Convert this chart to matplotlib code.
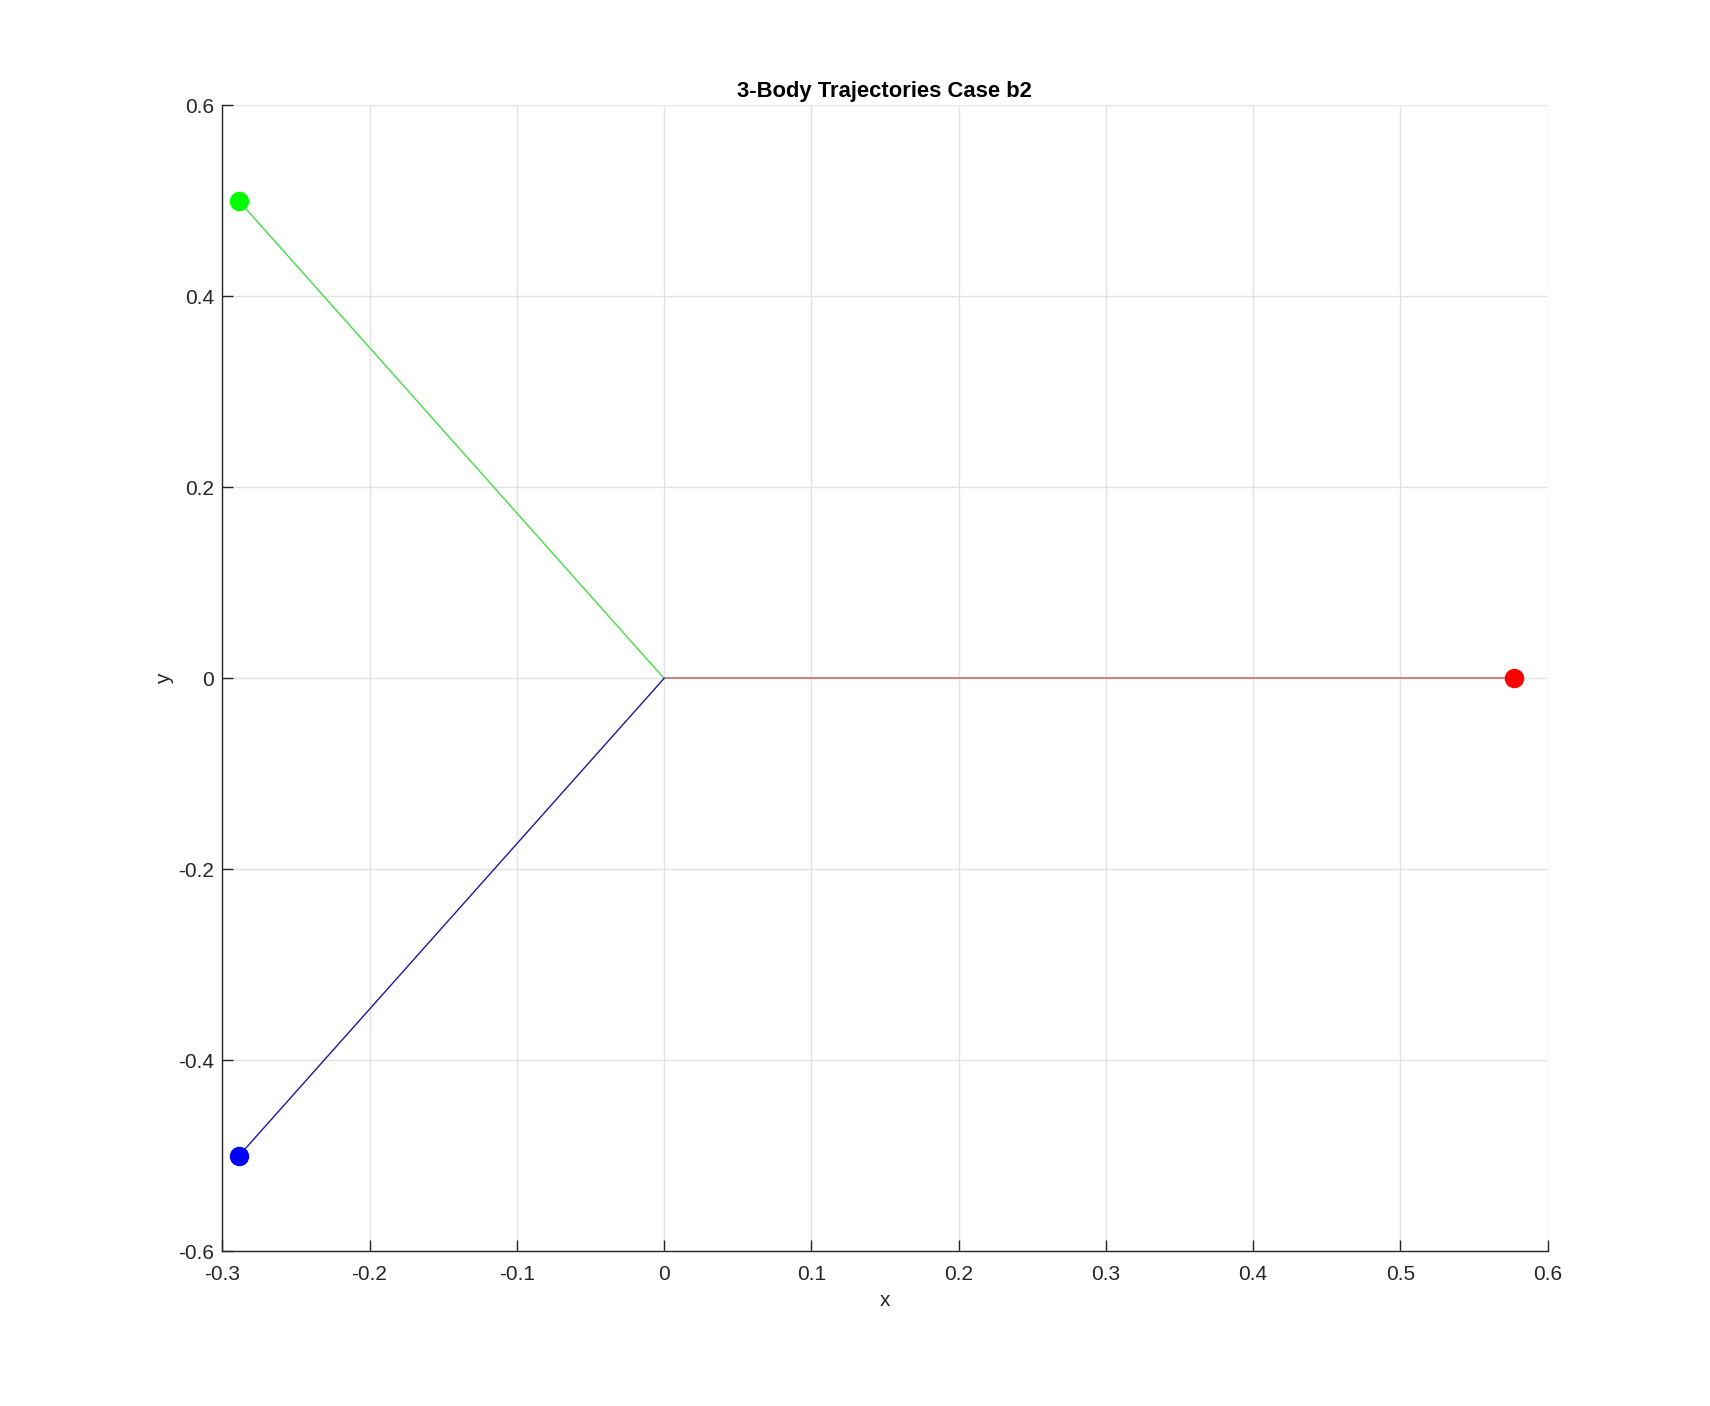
import matplotlib
matplotlib.use("Agg")
import matplotlib.pyplot as plt
import numpy as np

plt.rcParams['font.family'] = ['Liberation Sans', 'DejaVu Sans']

# Body trajectories (start -> end)
green_x = [-0.2887, 0.0]
green_y = [0.5, 0.0]
blue_x = [-0.2887, 0.0]
blue_y = [-0.5, 0.0]
red_x = [0.5774, 0.0]
red_y = [0.0, 0.0]

xticks = [-0.3, -0.2, -0.1, 0, 0.1, 0.2, 0.3, 0.4, 0.5, 0.6]
yticks = [-0.6, -0.4, -0.2, 0, 0.2, 0.4, 0.6]
xticklabels = ['-0.3', '-0.2', '-0.1', '0', '0.1', '0.2', '0.3', '0.4', '0.5', '0.6']
yticklabels = ['-0.6', '-0.4', '-0.2', '0', '0.2', '0.4', '0.6']

fig = plt.figure(figsize=(17.1, 14.06), dpi=100)
ax = fig.add_axes([0.13, 0.11, 0.775, 0.815])

ax.plot(red_x, red_y, color='#c87878', lw=1.3, zorder=3)
ax.plot(green_x, green_y, color='#44dd44', lw=1.0, zorder=3)
ax.plot(blue_x, blue_y, color='#1a1a99', lw=1.0, zorder=3)

ax.plot(green_x[0], green_y[0], 'o', color='#00ff00', ms=13, zorder=4)
ax.plot(blue_x[0], blue_y[0], 'o', color='#0000ff', ms=13, zorder=4)
ax.plot(red_x[0], red_y[0], 'o', color='#ff0000', ms=13, zorder=4)

ax.set_xlim(-0.3, 0.6)
ax.set_ylim(-0.6, 0.6)
ax.set_xticks(xticks)
ax.set_xticklabels(xticklabels)
ax.set_yticks(yticks)
ax.set_yticklabels(yticklabels)
ax.grid(True, color='#e3e3e3', lw=1.0)
ax.set_axisbelow(True)
for s in ['top', 'right']:
    ax.spines[s].set_visible(False)
for s in ['left', 'bottom']:
    ax.spines[s].set_color('#262626')
    ax.spines[s].set_linewidth(1.0)
ax.tick_params(direction='in', length=8, width=1.0, labelsize=15, colors='#262626')
ax.tick_params(axis='x', pad=10)
ax.tick_params(axis='y', pad=6)
ax.set_xlabel('x', fontsize=15, color='#262626', labelpad=5)
ax.set_ylabel('y', fontsize=15, color='#262626', labelpad=3)
ax.set_title('3-Body Trajectories Case b2', fontsize=15.8, fontweight='bold', pad=6)

fig.savefig('out.png', dpi=100)
